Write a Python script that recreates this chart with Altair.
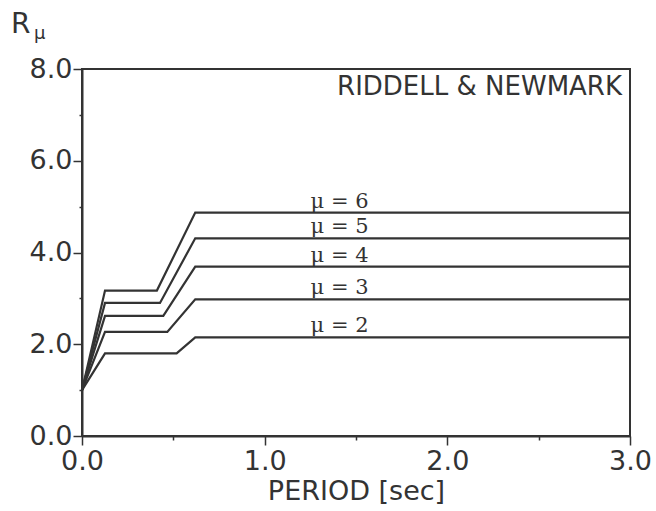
import altair as alt
import pandas as pd

# Ductility factors and the break points of each strength-reduction curve
mu = [2, 3, 4, 5, 6]
r_at_zero = 1.0
t_knee = [0.126, 0.126, 0.126, 0.126, 0.126]
r_short = [1.80, 2.27, 2.62, 2.90, 3.17]
t_short_end = [0.518, 0.467, 0.445, 0.427, 0.410]
t_long_start = [0.62, 0.62, 0.62, 0.62, 0.62]
r_long = [2.15, 2.98, 3.69, 4.31, 4.87]
t_max = 3.0

x_ticks = [0.0, 0.5, 1.0, 1.5, 2.0, 2.5, 3.0]
y_ticks = [0, 1, 2, 3, 4, 5, 6, 7, 8]

INK = "#333333"
SANS = "DejaVu Sans"
SERIF = "DejaVu Serif"

rows = []
for i, m in enumerate(mu):
    pts = [
        (0.0, r_at_zero),
        (t_knee[i], r_short[i]),
        (t_short_end[i], r_short[i]),
        (t_long_start[i], r_long[i]),
        (t_max, r_long[i]),
    ]
    for k, (t, r) in enumerate(pts):
        rows.append({"mu": m, "order": k, "T": t, "R": r})
curves = pd.DataFrame(rows)

labels = pd.DataFrame({
    "mu": mu,
    "R": r_long,
    "T": [1.41] * len(mu),
    "text": [f"\u03bc = {m}" for m in mu],
})

x_scale = alt.Scale(domain=[0, 3], nice=False, zero=False)
y_scale = alt.Scale(domain=[0, 8], nice=False, zero=False)

x_axis = alt.Axis(
    values=x_ticks,
    labelExpr="datum.value % 1 === 0 ? format(datum.value, '.1f') : ''",
    title="PERIOD [sec]",
    grid=False,
    tickSize={"condition": {"test": "datum.value % 1 === 0", "value": 9}, "value": 4},
    labelPadding=3,
    labelFlush=False,
    labelOverlap=False,
    titlePadding=4,
)
y_axis = alt.Axis(
    values=y_ticks,
    labelExpr="datum.value % 2 === 0 ? format(datum.value, '.1f') : ''",
    title=None,
    grid=False,
    tickSize={"condition": {"test": "datum.value % 2 === 0", "value": 9}, "value": 3},
    labelPadding=1,
    labelFlush=False,
    labelOverlap=False,
)

lines = alt.Chart(curves).mark_line(color=INK, strokeWidth=2.2).encode(
    x=alt.X("T:Q", scale=x_scale, axis=x_axis),
    y=alt.Y("R:Q", scale=y_scale, axis=y_axis),
    detail="mu:N",
    order="order:Q",
)

mu_text = alt.Chart(labels).mark_text(
    font=SERIF, fontSize=21, color=INK, baseline="alphabetic", align="center", dy=-5
).encode(
    x=alt.X("T:Q", scale=x_scale),
    y=alt.Y("R:Q", scale=y_scale),
    text="text:N",
)

source = alt.Chart(pd.DataFrame({"t": ["RIDDELL & NEWMARK"]})).mark_text(
    font=SANS, fontSize=26, color=INK, align="right", baseline="alphabetic"
).encode(x=alt.value(540), y=alt.value(26), text="t:N")

r_title = alt.Chart(pd.DataFrame({"t": ["R"]})).mark_text(
    font=SANS, fontSize=28, color=INK, align="left", baseline="alphabetic"
).encode(x=alt.value(-71), y=alt.value(-36), text="t:N")

mu_sub = alt.Chart(pd.DataFrame({"t": ["\u03bc"]})).mark_text(
    font=SANS, fontSize=18, color=INK, align="left", baseline="alphabetic"
).encode(x=alt.value(-48), y=alt.value(-30), text="t:N")

chart = (
    alt.layer(lines, mu_text, source, r_title, mu_sub)
    .properties(
        width=548,
        height=367,
        autosize=alt.AutoSizeParams(type="none"),
        padding={"left": 82, "top": 69, "right": 26, "bottom": 75},
        background="white",
    )
    .configure_view(stroke=INK, strokeWidth=2)
    .configure_axis(
        domainColor=INK,
        domainWidth=2,
        tickColor=INK,
        tickWidth=1.5,
        labelFont=SANS,
        labelFontSize=27,
        labelColor=INK,
        titleFont=SANS,
        titleFontSize=27,
        titleFontWeight="normal",
        titleColor=INK,
    )
)

chart.save("out.html", embed_options={"renderer": "svg", "actions": False})
